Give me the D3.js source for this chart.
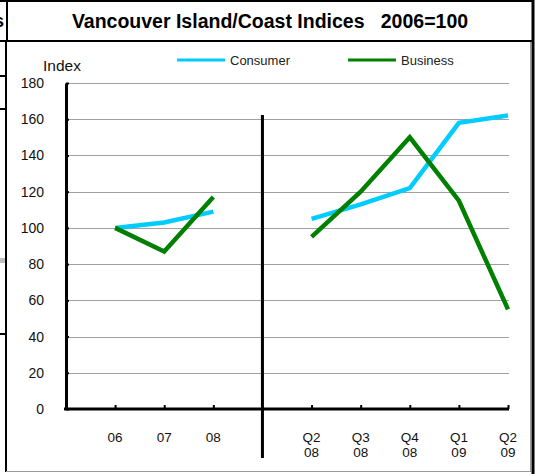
<!DOCTYPE html>
<html>
<head>
<meta charset="utf-8">
<script src="https://cdn.jsdelivr.net/npm/d3@7"></script>
<style>
  body { margin: 0; background: #fff; }
  svg { display: block; font-family: "Liberation Sans", Arial, sans-serif; }
</style>
</head>
<body>
<div id="chart"></div>
<script>
// chart data
var categories = ["", "06", "07", "08", "", "Q2 08", "Q3 08", "Q4 08", "Q1 09", "Q2 09"];
var consumer = [null, 100, 103, 109, null, 105, 113, 122, 158, 162];
var business = [null, 100, 87, 117, null, 95, 120, 150, 115, 55];
var yTicks = [0, 20, 40, 60, 80, 100, 120, 140, 160, 180];
var seriesNames = ["Consumer", "Business"];
var seriesColors = ["#00ccff", "#008000"];

var width = 535, height = 474;
var font = "Liberation Sans, Arial, sans-serif";
var svg = d3.select("#chart").append("svg").attr("width", width).attr("height", height);

// bits of the surrounding page
svg.append("text").attr("x", -6).attr("y", 27).attr("font-size", 18).attr("font-weight", "bold").text("s");
[[75, "#000"], [108, "#000"], [333, "#000"]].forEach(function (d) {
  svg.append("rect").attr("x", 0).attr("y", d[0]).attr("width", 6).attr("height", 2).attr("fill", d[1]);
});
svg.append("rect").attr("x", 0).attr("y", 258).attr("width", 5).attr("height", 5).attr("fill", "#c0c0c0");

// frames
svg.append("line").attr("x1", 0).attr("x2", 534).attr("y1", 1).attr("y2", 1).attr("stroke", "#000").attr("stroke-width", 2);
svg.append("line").attr("x1", 0).attr("x2", 534).attr("y1", 41).attr("y2", 41).attr("stroke", "#000").attr("stroke-width", 2);
svg.append("line").attr("x1", 7).attr("x2", 7).attr("y1", 0).attr("y2", 41).attr("stroke", "#000").attr("stroke-width", 2);
svg.append("line").attr("x1", 6).attr("x2", 6).attr("y1", 41).attr("y2", 472).attr("stroke", "#000").attr("stroke-width", 2);
svg.append("line").attr("x1", 533).attr("x2", 533).attr("y1", 0).attr("y2", 474).attr("stroke", "#000").attr("stroke-width", 3);
svg.append("line").attr("x1", 530.5).attr("x2", 530.5).attr("y1", 42).attr("y2", 472).attr("stroke", "#999").attr("stroke-width", 1);
svg.append("line").attr("x1", 6).attr("x2", 531).attr("y1", 471.5).attr("y2", 471.5).attr("stroke", "#999").attr("stroke-width", 1);

svg.append("text").attr("x", 270).attr("y", 28).attr("text-anchor", "middle")
  .attr("font-size", 19.5).attr("font-weight", "bold")
  .attr("xml:space", "preserve")
  .text("Vancouver Island/Coast Indices   2006=100");

// scales
var x = d3.scalePoint().domain(d3.range(categories.length)).range([66, 508]);
var y = d3.scaleLinear().domain([0, 180]).range([409, 83]);

// gridlines
svg.append("g").selectAll("line").data(yTicks.filter(function (d) { return d > 0; })).enter().append("line")
  .attr("x1", 66).attr("x2", 509)
  .attr("y1", function (d) { return Math.round(y(d)) + 0.5; })
  .attr("y2", function (d) { return Math.round(y(d)) + 0.5; })
  .attr("stroke", "#a0a0a0").attr("stroke-width", 1);

// y axis
var yAxis = svg.append("g").attr("transform", "translate(66,0)")
  .call(d3.axisLeft(y).tickValues(yTicks).tickSizeInner(-3).tickSizeOuter(0).tickPadding(22));
yAxis.attr("font-family", font).attr("font-size", 14);
yAxis.select(".domain").attr("stroke-width", 3);
yAxis.selectAll(".tick line").attr("stroke-width", 2);
yAxis.selectAll("text").attr("fill", "#111");

svg.append("text").attr("x", 43).attr("y", 71).attr("font-size", 15.5).attr("fill", "#111").text("Index");

// x axis
var tickIdx = d3.range(categories.length).filter(function (i) { return categories[i] !== ""; });
var xAxis = svg.append("g").attr("transform", "translate(0,409)")
  .call(d3.axisBottom(x).tickValues(tickIdx).tickSizeInner(-4).tickSizeOuter(0).tickFormat(""));
xAxis.select(".domain").attr("stroke-width", 3).attr("d", "M64,0H509");
xAxis.selectAll(".tick line").attr("stroke-width", 2);

var xl = svg.append("g").selectAll("text").data(tickIdx).enter().append("text")
  .attr("text-anchor", "middle").attr("font-size", 13.5).attr("fill", "#111")
  .attr("transform", function (i) { return "translate(" + x(i) + ",442)"; });
xl.each(function (i) {
  var parts = categories[i].split(" ");
  d3.select(this).selectAll("tspan").data(parts).enter().append("tspan")
    .attr("x", 0).attr("dy", function (d, k) { return k === 0 ? 0 : 15; })
    .text(function (d) { return d; });
});

// divider between annual and quarterly
svg.append("line").attr("x1", x(4)).attr("x2", x(4)).attr("y1", 115).attr("y2", 458)
  .attr("stroke", "#000").attr("stroke-width", 3);

// series lines
var line = d3.line()
  .defined(function (d) { return d != null; })
  .x(function (d, i) { return x(i); })
  .y(function (d) { return y(d); });

[consumer, business].forEach(function (s, k) {
  svg.append("path").datum(s).attr("d", line)
    .attr("fill", "none").attr("stroke", seriesColors[k]).attr("stroke-width", 4.5);
});

// legend
var legendX = [177, 348];
seriesNames.forEach(function (name, k) {
  svg.append("line").attr("x1", legendX[k]).attr("x2", legendX[k] + 48).attr("y1", 60).attr("y2", 60)
    .attr("stroke", seriesColors[k]).attr("stroke-width", 3);
  svg.append("text").attr("x", legendX[k] + 53).attr("y", 65).attr("font-size", 13).attr("fill", "#222").text(name);
});
</script>
</body>
</html>
